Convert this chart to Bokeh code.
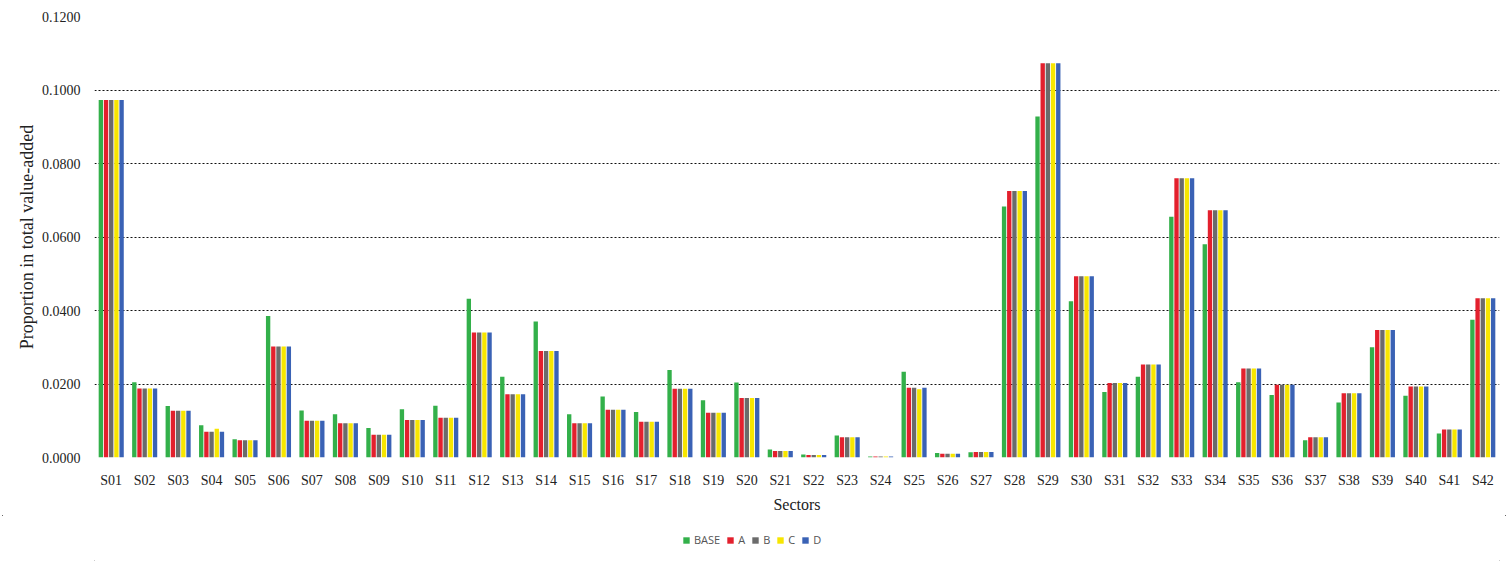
from bokeh.plotting import figure
from bokeh.layouts import column
from bokeh.models import (ColumnDataSource, FactorRange, Legend, LegendItem,
                          NumeralTickFormatter, FixedTicker, InlineStyleSheet)
from bokeh.transform import dodge
from bokeh.embed import file_html
from bokeh.resources import INLINE

sectors = [f"S{i:02d}" for i in range(1, 43)]
base = [0.0973, 0.0205, 0.0140, 0.0088, 0.0050, 0.0385, 0.0128, 0.0118, 0.0080, 0.0131,
        0.0141, 0.0432, 0.0220, 0.0370, 0.0118, 0.0166, 0.0124, 0.0238, 0.0156, 0.0204,
        0.0022, 0.0008, 0.0060, 0.0003, 0.0233, 0.0012, 0.0014, 0.0683, 0.0928, 0.0425,
        0.0178, 0.0220, 0.0655, 0.0580, 0.0205, 0.0170, 0.0047, 0.0150, 0.0300, 0.0168,
        0.0065, 0.0375]
a = [0.0973, 0.0188, 0.0127, 0.0070, 0.0047, 0.0302, 0.0100, 0.0093, 0.0062, 0.0102,
     0.0108, 0.0340, 0.0172, 0.0290, 0.0093, 0.0130, 0.0097, 0.0187, 0.0122, 0.0162,
     0.0018, 0.0007, 0.0055, 0.0003, 0.0190, 0.0010, 0.0015, 0.0725, 0.1073, 0.0493,
     0.0203, 0.0253, 0.0760, 0.0673, 0.0242, 0.0198, 0.0055, 0.0175, 0.0347, 0.0193,
     0.0076, 0.0433]
b = list(a)
c = [0.0973, 0.0188, 0.0127, 0.0078, 0.0047, 0.0302, 0.0100, 0.0093, 0.0062, 0.0102,
     0.0108, 0.0340, 0.0172, 0.0290, 0.0093, 0.0130, 0.0097, 0.0187, 0.0122, 0.0162,
     0.0018, 0.0007, 0.0055, 0.0003, 0.0186, 0.0010, 0.0015, 0.0725, 0.1073, 0.0493,
     0.0203, 0.0253, 0.0760, 0.0673, 0.0242, 0.0198, 0.0055, 0.0175, 0.0347, 0.0193,
     0.0076, 0.0433]
d = list(a)

y_ticks = [0.0, 0.02, 0.04, 0.06, 0.08, 0.10, 0.12]

series_names = ["BASE", "A", "B", "C", "D"]
series_cols = ["base", "a", "b", "c", "d"]
colors = ["#33b04a", "#e3202d", "#6b6b6b", "#f7e600", "#3a62b5"]
offsets = [-0.31, -0.155, 0.0, 0.155, 0.31]

source = ColumnDataSource(dict(sector=sectors, base=base, a=a, b=b, c=c, d=d))

p = figure(x_range=FactorRange(*sectors, range_padding=0), y_range=(0, 0.12),
           width=1508, height=515, output_backend="svg", toolbar_location=None,
           min_border_left=94, min_border_right=9, min_border_top=16, min_border_bottom=55)

for name, col, color, off in zip(series_names, series_cols, colors, offsets):
    p.vbar(x=dodge("sector", off, range=p.x_range), top=col, width=0.13,
           source=source, fill_color=color, line_color=None)

serif = "Liberation Serif"
p.yaxis.ticker = FixedTicker(ticks=y_ticks)
p.yaxis.formatter = NumeralTickFormatter(format="0.0000")
p.yaxis.axis_label = "Proportion in total value-added"
p.xaxis.axis_label = "Sectors"
for ax in (p.xaxis, p.yaxis):
    ax.axis_line_color = None
    ax.major_tick_line_color = None
    ax.minor_tick_line_color = None
    ax.major_label_text_font = serif
    ax.major_label_text_font_size = "14px"
    ax.major_label_text_color = "#222222"
    ax.axis_label_text_font = serif
    ax.axis_label_text_font_style = "normal"
    ax.axis_label_text_color = "#222222"
p.yaxis.axis_label_text_font_size = "18px"
p.xaxis.axis_label_text_font_size = "16px"
p.yaxis.major_label_standoff = 8
p.yaxis.axis_label_standoff = 2
p.xaxis.major_label_standoff = 9
p.xaxis.axis_label_standoff = 5

p.xgrid.grid_line_color = None
p.ygrid.ticker = FixedTicker(ticks=y_ticks[1:])
p.ygrid.grid_line_color = "#111111"
p.ygrid.grid_line_dash = "2 2"
p.ygrid.grid_line_width = 1
p.outline_line_color = None

# legend strip below the chart
lf = figure(width=1508, height=48, output_backend="svg", toolbar_location=None,
            x_range=(0, 1), y_range=(0, 1),
            min_border_left=0, min_border_right=0, min_border_top=0, min_border_bottom=0)
lf.axis.visible = False
lf.grid.visible = False
lf.outline_line_color = None
hidden = ColumnDataSource(dict(x=[-10], top=[-10], bottom=[-11]))
items = []
for name, color in zip(series_names, colors):
    r = lf.vbar(x="x", top="top", bottom="bottom", width=0.1, source=hidden,
                fill_color=color, line_color=None)
    items.append(LegendItem(label=name, renderers=[r]))
legend = Legend(items=items, orientation="horizontal", location=(588, 16),
                label_text_font="Open Sans", label_text_font_size="11px",
                label_text_color="#555555", glyph_width=8, glyph_height=8,
                label_width=6, label_height=12, spacing=6, label_standoff=4,
                padding=2, margin=0,
                border_line_color=None, background_fill_alpha=0)
lf.add_layout(legend)

layout = column(p, lf, spacing=0)
layout.stylesheets = [InlineStyleSheet(css=":host { outline: 1.5px solid #333333; outline-offset: -3px; }")]
open("out.html", "w").write(file_html(layout, INLINE))
